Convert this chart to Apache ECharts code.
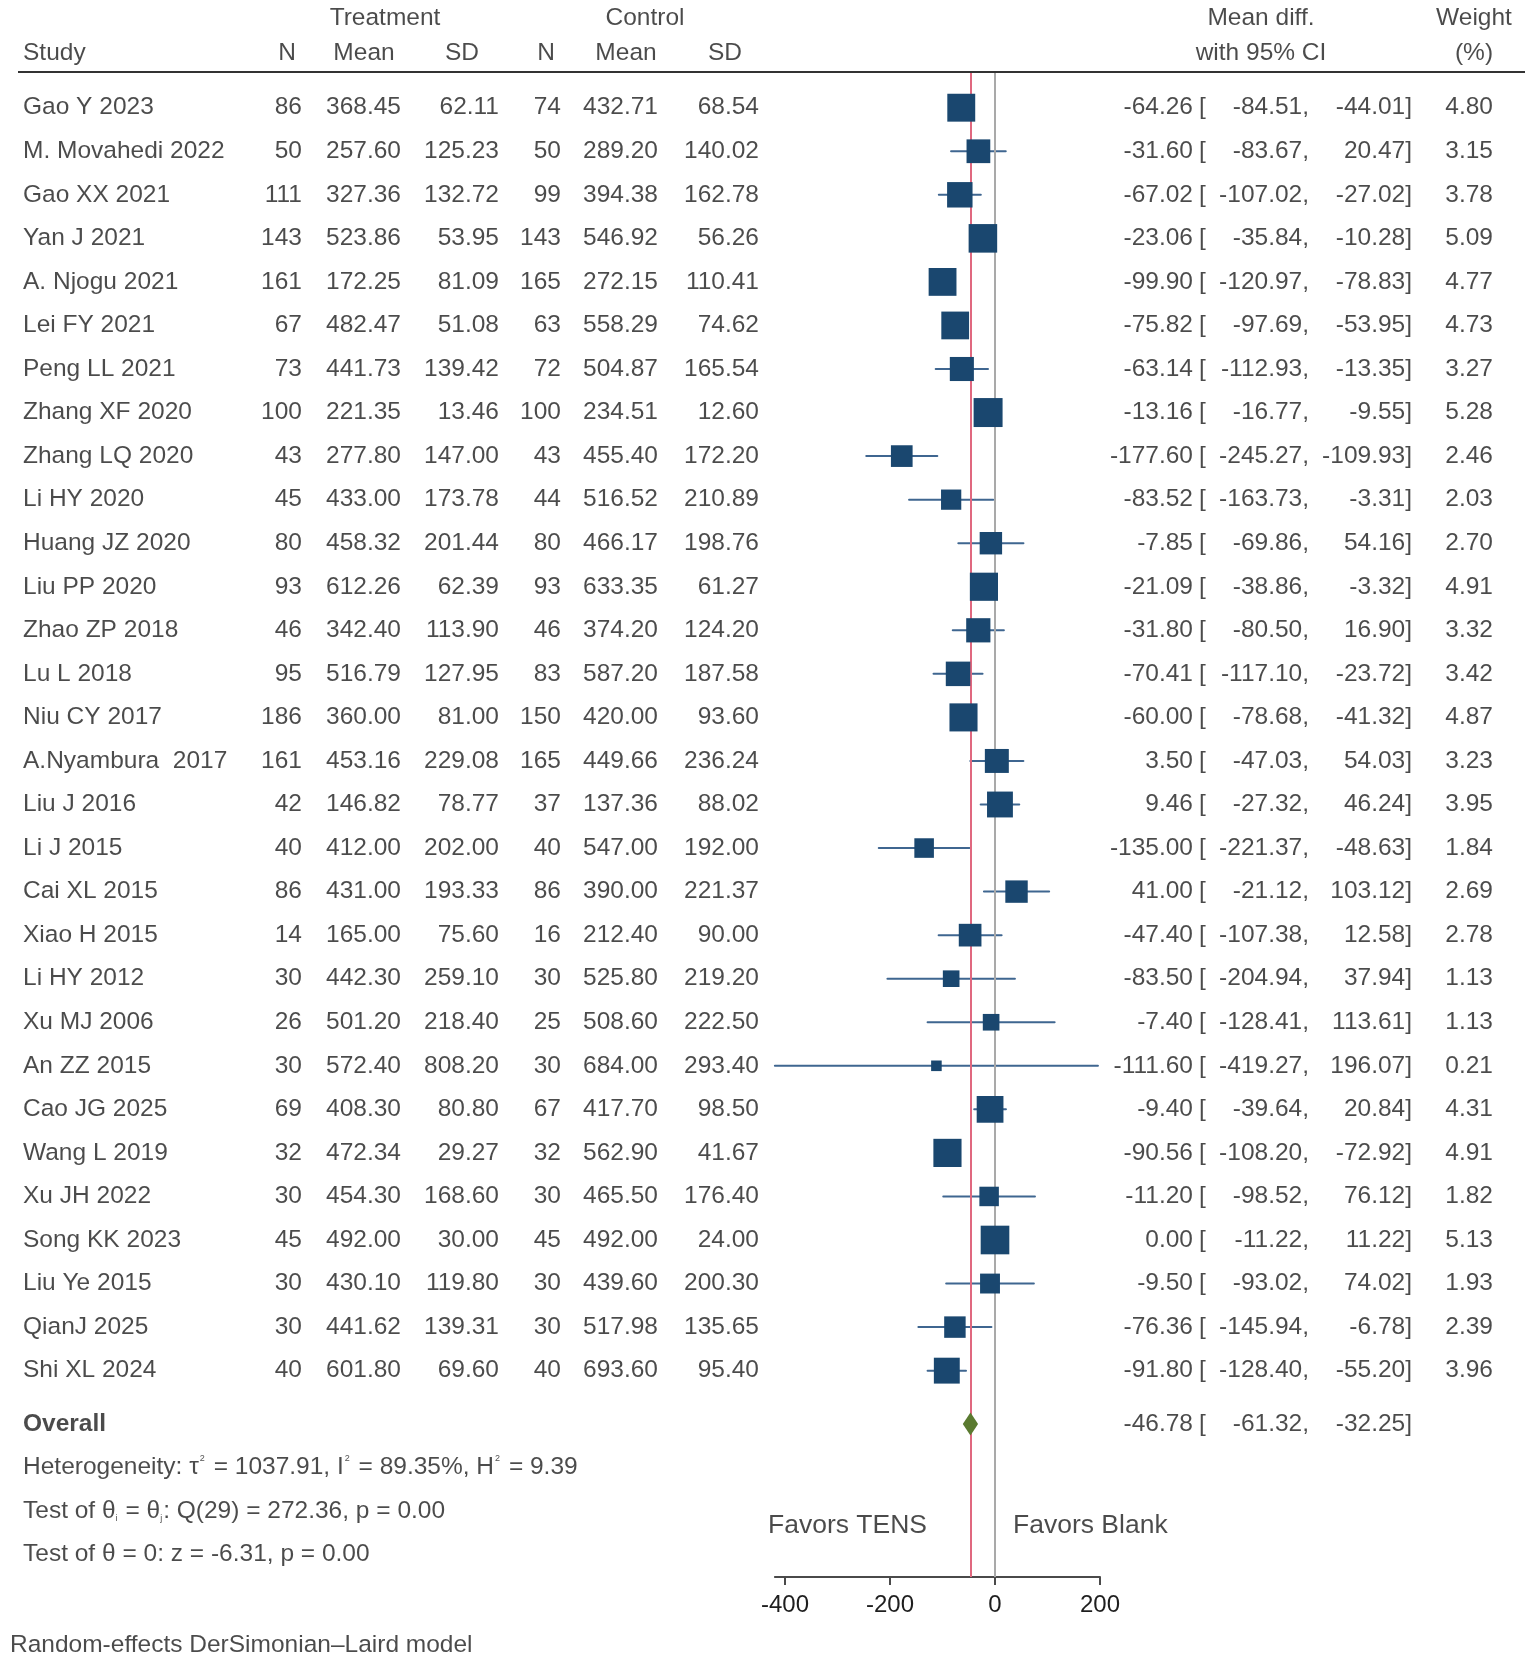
<!DOCTYPE html>
<html>
<head>
<meta charset="utf-8">
<script src="https://cdn.jsdelivr.net/npm/echarts@6/dist/echarts.min.js"></script>
<style>
html,body{margin:0;padding:0;background:#fff;}
#chart{width:1535px;height:1662px;}
</style>
</head>
<body>
<div id="chart"></div>
<script>
// ---------------- DATA ----------------
const studies = ["Gao Y 2023","M. Movahedi 2022","Gao XX 2021","Yan J 2021","A. Njogu 2021","Lei FY 2021","Peng LL 2021","Zhang XF 2020","Zhang LQ 2020","Li HY 2020","Huang JZ 2020","Liu PP 2020","Zhao ZP 2018","Lu L 2018","Niu CY 2017","A.Nyambura  2017","Liu J 2016","Li J 2015","Cai XL 2015","Xiao H 2015","Li HY 2012","Xu MJ 2006","An ZZ 2015","Cao JG 2025","Wang L 2019","Xu JH 2022","Song KK 2023","Liu Ye 2015","QianJ 2025","Shi XL 2024"];
const nT    = [86,50,111,143,161,67,73,100,43,45,80,93,46,95,186,161,42,40,86,14,30,26,30,69,32,30,45,30,30,40];
const meanT = [368.45,257.60,327.36,523.86,172.25,482.47,441.73,221.35,277.80,433.00,458.32,612.26,342.40,516.79,360.00,453.16,146.82,412.00,431.00,165.00,442.30,501.20,572.40,408.30,472.34,454.30,492.00,430.10,441.62,601.80];
const sdT   = [62.11,125.23,132.72,53.95,81.09,51.08,139.42,13.46,147.00,173.78,201.44,62.39,113.90,127.95,81.00,229.08,78.77,202.00,193.33,75.60,259.10,218.40,808.20,80.80,29.27,168.60,30.00,119.80,139.31,69.60];
const nC    = [74,50,99,143,165,63,72,100,43,44,80,93,46,83,150,165,37,40,86,16,30,25,30,67,32,30,45,30,30,40];
const meanC = [432.71,289.20,394.38,546.92,272.15,558.29,504.87,234.51,455.40,516.52,466.17,633.35,374.20,587.20,420.00,449.66,137.36,547.00,390.00,212.40,525.80,508.60,684.00,417.70,562.90,465.50,492.00,439.60,517.98,693.60];
const sdC   = [68.54,140.02,162.78,56.26,110.41,74.62,165.54,12.60,172.20,210.89,198.76,61.27,124.20,187.58,93.60,236.24,88.02,192.00,221.37,90.00,219.20,222.50,293.40,98.50,41.67,176.40,24.00,200.30,135.65,95.40];
const md    = [-64.26,-31.60,-67.02,-23.06,-99.90,-75.82,-63.14,-13.16,-177.60,-83.52,-7.85,-21.09,-31.80,-70.41,-60.00,3.50,9.46,-135.00,41.00,-47.40,-83.50,-7.40,-111.60,-9.40,-90.56,-11.20,0.00,-9.50,-76.36,-91.80];
const ciLo  = [-84.51,-83.67,-107.02,-35.84,-120.97,-97.69,-112.93,-16.77,-245.27,-163.73,-69.86,-38.86,-80.50,-117.10,-78.68,-47.03,-27.32,-221.37,-21.12,-107.38,-204.94,-128.41,-419.27,-39.64,-108.20,-98.52,-11.22,-93.02,-145.94,-128.40];
const ciHi  = [-44.01,20.47,-27.02,-10.28,-78.83,-53.95,-13.35,-9.55,-109.93,-3.31,54.16,-3.32,16.90,-23.72,-41.32,54.03,46.24,-48.63,103.12,12.58,37.94,113.61,196.07,20.84,-72.92,76.12,11.22,74.02,-6.78,-55.20];
const weight= [4.80,3.15,3.78,5.09,4.77,4.73,3.27,5.28,2.46,2.03,2.70,4.91,3.32,3.42,4.87,3.23,3.95,1.84,2.69,2.78,1.13,1.13,0.21,4.31,4.91,1.82,5.13,1.93,2.39,3.96];
const overall = {est:-46.78, lo:-61.32, hi:-32.25};
const xTicks = [-400,-200,0,200];
const xMax = 200;
const hetText  = "Heterogeneity: \u03C4{sup|2} = 1037.91, I{sup|2} = 89.35%, H{sup|2} = 9.39";
const testText1 = "Test of \u03B8{sub|i} = \u03B8{sub|j}: Q(29) = 272.36, p = 0.00";
const testText2 = "Test of \u03B8 = 0: z = -6.31, p = 0.00";
const modelText = "Random-effects DerSimonian\u2013Laird model";
const favorsLeft = "Favors TENS", favorsRight = "Favors Blank";

// ---------------- LAYOUT ----------------
const W = 1535, H = 1662;
const ROW0 = 107.7, ROWH = 43.55;
const toV = px => (px - ROW0) / ROWH;
const ZERO_PX = 995, PX_PER_UNIT = 0.525;
const xMin = Math.min(...ciLo);
const PLOT_TOP = 72, PLOT_BOTTOM = 1577;
const OV_ROW = toV(1424);
const FONT = "'Liberation Sans', Arial, Helvetica, sans-serif";
const TXT = '#1e1e1e';
const NAVY = '#1a476f';
const FS = 24.5;

const f2 = v => v.toFixed(2);

function textSeries(items, align, extra) {
  extra = extra || {};
  return {
    type: 'scatter', xAxisIndex: 0, yAxisIndex: 0, silent: true, z: 20,
    symbolSize: 1, itemStyle: {color: 'rgba(0,0,0,0)'},
    data: items.map(it => ({name: it[0], value: [it[1], it[2]]})),
    label: Object.assign({
      show: true, position: 'inside', align: align, verticalAlign: 'middle',
      formatter: p => p.name, fontSize: FS, color: TXT, fontFamily: FONT
    }, extra)
  };
}

const rows = studies.map((s, i) => i);
const col = (arr, x, fmt) => arr.map((v, i) => [fmt ? fmt(v) : String(v), x, i]);

const series = [];
// header
series.push(textSeries([
  ['Treatment', 385, toV(18)], ['Control', 645, toV(18)],
  ['Mean diff.', 1261, toV(18)], ['Weight', 1474, toV(18)],
  ['N', 287, toV(53)], ['Mean', 364, toV(53)], ['SD', 462, toV(53)],
  ['N', 546, toV(53)], ['Mean', 626, toV(53)], ['SD', 725, toV(53)],
  ['with 95% CI', 1261, toV(53)], ['(%)', 1474, toV(53)]
], 'center'));
series.push(textSeries([['Study', 23, toV(53)]], 'left'));
// study rows
series.push(textSeries(col(studies, 23), 'left'));
series.push(textSeries(col(nT, 302), 'right'));
series.push(textSeries(col(meanT, 401, f2), 'right'));
series.push(textSeries(col(sdT, 499, f2), 'right'));
series.push(textSeries(col(nC, 561), 'right'));
series.push(textSeries(col(meanC, 658, f2), 'right'));
series.push(textSeries(col(sdC, 759, f2), 'right'));
series.push(textSeries(col(md, 1193, f2).concat([[f2(overall.est), 1193, OV_ROW]]), 'right'));
series.push(textSeries(rows.map(i => ['[', 1199, i]).concat([['[', 1199, OV_ROW]]), 'left'));
series.push(textSeries(col(ciLo, 1309, v => f2(v) + ',').concat([[f2(overall.lo) + ',', 1309, OV_ROW]]), 'right'));
series.push(textSeries(col(ciHi, 1412, v => f2(v) + ']').concat([[f2(overall.hi) + ']', 1412, OV_ROW]]), 'right'));
series.push(textSeries(col(weight, 1493, f2), 'right'));
// overall + footer texts
series.push(textSeries([['Overall', 23, OV_ROW]], 'left', {fontWeight: 'bold'}));
series.push(textSeries([
  [hetText, 23, toV(1467)], [testText1, 23, toV(1511)], [testText2, 23, toV(1554)]
], 'left', {rich: {
  sup: {fontSize: 9, verticalAlign: 'top', color: TXT, fontFamily: FONT, padding: [0, 2, 14, 1]},
  sub: {fontSize: 9, verticalAlign: 'bottom', color: TXT, fontFamily: FONT, padding: [6, 1, 0, 0]}
}}));
series.push(textSeries([[modelText, 10, toV(1645)]], 'left'));
series.push(textSeries([[favorsLeft, 927, toV(1526)]], 'right', {fontSize: 26.5}));
series.push(textSeries([[favorsRight, 1013, toV(1526)]], 'left', {fontSize: 26.5}));

// reference lines
series.push({
  type: 'scatter', xAxisIndex: 1, yAxisIndex: 1, data: [], z: 1, silent: true,
  markLine: {
    silent: true, symbol: 'none', label: {show: false}, animation: false,
    data: [
      {xAxis: 0, lineStyle: {color: '#a9a9a9', width: 2, type: 'solid'}},
      {xAxis: overall.est, lineStyle: {color: '#e0687f', width: 2, type: 'solid'}}
    ]
  }
});
// CI lines
series.push({
  type: 'custom', xAxisIndex: 1, yAxisIndex: 1, z: 3, silent: true,
  data: rows.map(i => [ciLo[i], ciHi[i], i]),
  encode: {x: [0, 1], y: 2},
  renderItem: (params, api) => {
    const a = api.coord([api.value(0), api.value(2)]);
    const b = api.coord([api.value(1), api.value(2)]);
    return {type: 'line', shape: {x1: a[0], y1: a[1], x2: b[0], y2: b[1]},
      style: {stroke: '#3f6690', lineWidth: 2, lineCap: 'round'}};
  }
});
// squares
series.push({
  type: 'scatter', xAxisIndex: 1, yAxisIndex: 1, z: 5, silent: true,
  symbol: 'rect',
  data: rows.map(i => [md[i], i, weight[i]]),
  symbolSize: v => 6 + 10 * Math.sqrt(v[2]),
  itemStyle: {color: NAVY, opacity: 1}
});
// overall diamond
series.push({
  type: 'custom', xAxisIndex: 1, yAxisIndex: 1, z: 5, silent: true,
  data: [[overall.est, overall.lo, overall.hi, OV_ROW]],
  encode: {x: [1, 2], y: 3},
  renderItem: (params, api) => {
    const c = api.coord([api.value(0), api.value(3)]);
    const l = api.coord([api.value(1), api.value(3)]);
    const r = api.coord([api.value(2), api.value(3)]);
    const h = 11.5;
    return {type: 'polygon', shape: {points: [[l[0], c[1]], [c[0], c[1] - h], [r[0], c[1]], [c[0], c[1] + h]]},
      style: {fill: '#5a7a30'}};
  }
});

const chart = echarts.init(document.getElementById('chart'), null, {renderer: 'canvas'});
chart.setOption({
  backgroundColor: '#ffffff',
  animation: false,
  grid: [
    {left: 0, top: 0, width: W, height: H},
    {left: ZERO_PX + xMin * PX_PER_UNIT, top: PLOT_TOP,
     width: (xMax - xMin) * PX_PER_UNIT, height: PLOT_BOTTOM - PLOT_TOP}
  ],
  xAxis: [
    {gridIndex: 0, type: 'value', min: 0, max: W, show: false},
    {gridIndex: 1, type: 'value', min: xMin, max: xMax, position: 'bottom',
     axisLine: {show: true, onZero: false, lineStyle: {color: '#4a4a4a', width: 2}},
     axisTick: {show: true, length: 8, lineStyle: {color: '#4a4a4a', width: 2}, customValues: xTicks},
     axisLabel: {show: true, fontSize: 24, color: TXT, fontFamily: FONT, margin: 16, customValues: xTicks},
     splitLine: {show: false}}
  ],
  yAxis: [
    {gridIndex: 0, type: 'value', inverse: true, min: toV(0), max: toV(H), show: false},
    {gridIndex: 1, type: 'value', inverse: true, min: toV(PLOT_TOP), max: toV(PLOT_BOTTOM), show: false}
  ],
  graphic: [
    {type: 'line', shape: {x1: 18, y1: 72, x2: 1525, y2: 72}, style: {stroke: '#333', lineWidth: 2}, z: 30}
  ],
  series: series
});
</script>
</body>
</html>
